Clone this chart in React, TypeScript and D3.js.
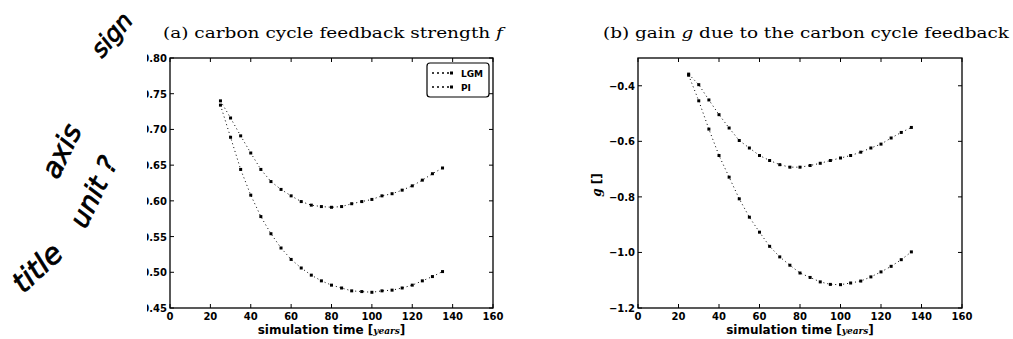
import * as d3 from 'd3';
import React, { useEffect, useRef } from 'react';

// simulation time [years]
const years = [25, 30, 35, 40, 45, 50, 55, 60, 65, 70, 75, 80, 85, 90, 95, 100, 105, 110, 115, 120, 125, 130, 135];

// (a) feedback strength f
const fLGM = [0.740, 0.716, 0.691, 0.667, 0.644, 0.627, 0.616, 0.607, 0.599, 0.594, 0.592, 0.591, 0.592, 0.596, 0.599, 0.602, 0.607, 0.610, 0.615, 0.621, 0.629, 0.638, 0.646];
const fPI = [0.734, 0.689, 0.644, 0.608, 0.578, 0.554, 0.534, 0.518, 0.506, 0.496, 0.488, 0.482, 0.478, 0.474, 0.473, 0.472, 0.474, 0.475, 0.478, 0.482, 0.488, 0.494, 0.501];

// (b) gain g
const gLGM = [-0.358, -0.396, -0.451, -0.504, -0.552, -0.597, -0.624, -0.651, -0.669, -0.684, -0.693, -0.693, -0.687, -0.679, -0.669, -0.660, -0.651, -0.639, -0.624, -0.610, -0.588, -0.568, -0.550];
const gPI = [-0.362, -0.454, -0.556, -0.651, -0.729, -0.807, -0.873, -0.927, -0.978, -1.016, -1.046, -1.074, -1.090, -1.106, -1.115, -1.116, -1.110, -1.103, -1.088, -1.070, -1.050, -1.026, -0.998];

const xTicks = [0, 20, 40, 60, 80, 100, 120, 140, 160];
const fTicks = [0.45, 0.50, 0.55, 0.60, 0.65, 0.70, 0.75, 0.80];
const gTicks = [-1.2, -1.0, -0.8, -0.6, -0.4];
const legendNames = ['LGM', 'PI'];

// handwritten notes scribbled on the scan
const notes = [
    { text: 'sign', x: 118, y: 40, angle: -50, size: 24 },
    { text: 'axis', x: 70, y: 155, angle: -64, size: 28 },
    { text: 'unit ?', x: 102, y: 196, angle: -64, size: 27 },
    { text: 'title', x: 44, y: 275, angle: -43, size: 29 },
];

const width = 1013;
const height = 339;

export default function App() {
    const svgRef = useRef<SVGSVGElement>(null);

    useEffect(() => {
        const svg = d3.select(svgRef.current);
        svg.selectAll('*').remove();

        svg.append('defs').append('clipPath').attr('id', 'leftclip')
            .append('rect').attr('x', 147).attr('y', 0).attr('width', 400).attr('height', height);

        const top = 58, bottom = 308;

        function panel(x0: number, x1: number, domain: [number, number], ticks: number[], series: number[][], fmt: (v: number) => string, clip: boolean) {
            const x = d3.scaleLinear().domain([0, 160]).range([x0, x1]);
            const y = d3.scaleLinear().domain(domain).range([bottom, top]);
            const g = svg.append('g');

            // frame
            g.append('rect')
                .attr('x', x0).attr('y', top)
                .attr('width', x1 - x0).attr('height', bottom - top)
                .attr('fill', 'none').attr('stroke', '#000').attr('stroke-width', 1.3);

            // inward ticks on all sides
            xTicks.forEach(t => {
                g.append('line').attr('x1', x(t)).attr('x2', x(t)).attr('y1', bottom).attr('y2', bottom - 4).attr('stroke', '#000');
                g.append('line').attr('x1', x(t)).attr('x2', x(t)).attr('y1', top).attr('y2', top + 4).attr('stroke', '#000');
                g.append('text')
                    .attr('x', x(t)).attr('y', bottom + 12)
                    .attr('text-anchor', 'middle')
                    .style('font-family', 'DejaVu Sans').style('font-size', '10px').style('font-weight', 'bold')
                    .text(t);
            });
            const yl = g.append('g').attr('clip-path', clip ? 'url(#leftclip)' : null);
            ticks.forEach(t => {
                g.append('line').attr('x1', x0).attr('x2', x0 + 4).attr('y1', y(t)).attr('y2', y(t)).attr('stroke', '#000');
                g.append('line').attr('x1', x1).attr('x2', x1 - 4).attr('y1', y(t)).attr('y2', y(t)).attr('stroke', '#000');
                yl.append('text')
                    .attr('x', x0 - 3).attr('y', y(t) + 4)
                    .attr('text-anchor', 'end')
                    .style('font-family', 'DejaVu Sans').style('font-size', '10px').style('font-weight', 'bold')
                    .text(fmt(t));
            });

            // series: dotted line with small square markers
            const line = d3.line<number>().x((_, i) => x(years[i])).y(d => y(d));
            series.forEach(s => {
                g.append('path')
                    .attr('d', line(s))
                    .attr('fill', 'none').attr('stroke', '#000')
                    .attr('stroke-width', 1).attr('stroke-dasharray', '1,3');
                g.selectAll(null).data(s).enter().append('rect')
                    .attr('x', (_, i) => x(years[i]) - 1.5)
                    .attr('y', d => y(d) - 1.5)
                    .attr('width', 3).attr('height', 3)
                    .attr('fill', '#000');
            });

            // x label
            const xl = g.append('text')
                .attr('x', (x0 + x1) / 2).attr('y', 334)
                .attr('text-anchor', 'middle')
                .style('font-family', 'DejaVu Sans').style('font-size', '12px').style('font-weight', 'bold');
            xl.append('tspan').text('simulation time [');
            xl.append('tspan').style('font-style', 'italic').style('font-size', '9px').style('font-family', 'DejaVu Serif').text('years');
            xl.append('tspan').text(']');
            return { g, x, y };
        }

        const a = panel(170, 493, [0.45, 0.80], fTicks, [fLGM, fPI], v => d3.format('.2f')(v), true);
        panel(638, 962, [-1.2, -0.3], gTicks, [gLGM, gPI], v => d3.format('.1f')(v).replace('-', '\u2212'), false);

        // titles
        const ta = svg.append('text')
            .attr('x', 163).attr('y', 38)
            .attr('textLength', 340).attr('lengthAdjust', 'spacingAndGlyphs')
            .style('font-family', 'DejaVu Serif').style('font-size', '15px');
        ta.append('tspan').text('(a) carbon cycle feedback strength ');
        ta.append('tspan').style('font-style', 'italic').text('f');

        const tb = svg.append('text')
            .attr('x', 603).attr('y', 38)
            .attr('textLength', 406).attr('lengthAdjust', 'spacingAndGlyphs')
            .style('font-family', 'DejaVu Serif').style('font-size', '15px');
        tb.append('tspan').text('(b) gain ');
        tb.append('tspan').style('font-style', 'italic').text('g');
        tb.append('tspan').text(' due to the carbon cycle feedback');

        // y label of (b)
        const ylab = svg.append('text')
            .attr('transform', 'translate(601,185) rotate(-90)')
            .attr('text-anchor', 'middle')
            .style('font-family', 'DejaVu Sans').style('font-size', '12px').style('font-weight', 'bold');
        ylab.append('tspan').style('font-style', 'italic').style('font-family', 'DejaVu Serif').text('g');
        ylab.append('tspan').text(' []');

        // legend of (a)
        const lg = a.g.append('g');
        lg.append('rect')
            .attr('x', 427).attr('y', 63).attr('width', 62).attr('height', 34)
            .attr('rx', 3).attr('fill', '#fff').attr('stroke', '#000').attr('stroke-width', 1.2);
        legendNames.forEach((name, i) => {
            const ly = 73 + i * 14;
            lg.append('line').attr('x1', 432).attr('x2', 452).attr('y1', ly).attr('y2', ly)
                .attr('stroke', '#000').attr('stroke-width', 1.5).attr('stroke-dasharray', '2,3');
            lg.append('rect').attr('x', 450).attr('y', ly - 1.5).attr('width', 3).attr('height', 3).attr('fill', '#000');
            lg.append('text').attr('x', 461).attr('y', ly + 3.5)
                .style('font-family', 'DejaVu Sans').style('font-size', '9px').style('font-weight', 'bold')
                .text(name);
        });

        // handwriting
        notes.forEach(n => {
            svg.append('text')
                .attr('transform', `translate(${n.x},${n.y}) rotate(${n.angle})`)
                .attr('text-anchor', 'middle')
                .style('font-family', 'DejaVu Sans').style('font-style', 'italic')
                .style('font-size', n.size + 'px')
                .attr('fill', '#000').attr('stroke', '#000').attr('stroke-width', 0.8)
                .text(n.text);
        });
    }, []);

    return (
        <div style={{ position: 'absolute', left: 0, top: 0 }}>
            <svg ref={svgRef} width={width} height={height} style={{ display: 'block', background: '#fff' }}></svg>
        </div>
    );
}
